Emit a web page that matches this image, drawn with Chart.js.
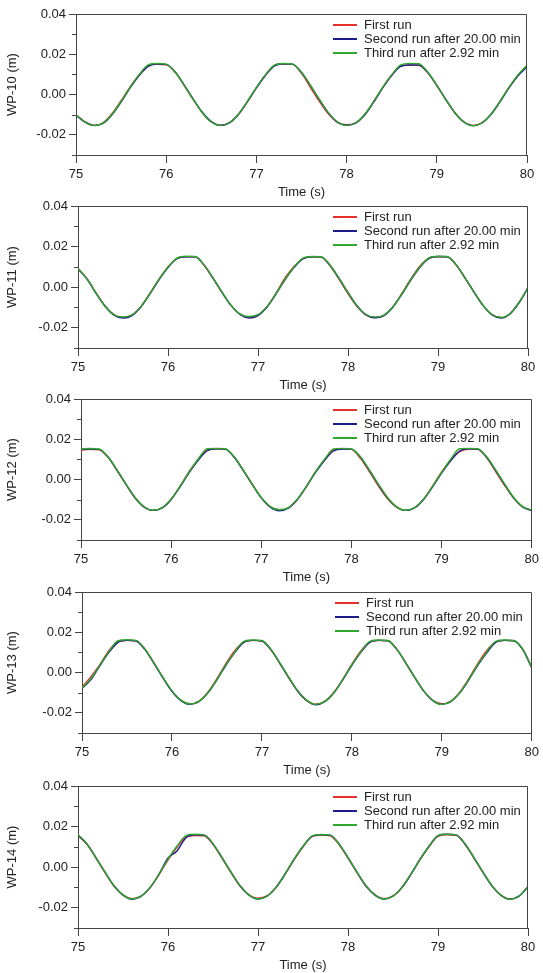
<!DOCTYPE html>
<html>
<head>
<meta charset="utf-8">
<title>WP-10 to WP-14 repeatability</title>
<script src="https://cdn.jsdelivr.net/npm/chart.js@4.4.1/dist/chart.umd.min.js"></script>
<style>
  body { margin: 0; background: #fff; }
  #page { position: relative; width: 543px; height: 973px; overflow: hidden;
          font-family: "Liberation Sans", Arial, Helvetica, sans-serif; }
  .panel { position: absolute; left: 0; }
  .legend { position: absolute; font-size: 13px; line-height: 14px; color: #222; }
  .legend div { position: relative; height: 14px; padding-left: 31px; white-space: nowrap; }
  .legend .swatch { position: absolute; left: 0; top: 6px; width: 24px; height: 2px; }
</style>
</head>
<body>
<div id="page"></div>
<script>
// ── Data ──────────────────────────────────────────────────────────────────────
const times = [
  75.0, 75.1, 75.2, 75.3, 75.4, 75.5, 75.6, 75.7, 75.8, 75.9,
  76.0, 76.1, 76.2, 76.3, 76.4, 76.5, 76.6, 76.7, 76.8, 76.9,
  77.0, 77.1, 77.2, 77.3, 77.4, 77.5, 77.6, 77.7, 77.8, 77.9,
  78.0, 78.1, 78.2, 78.3, 78.4, 78.5, 78.6, 78.7, 78.8, 78.9,
  79.0, 79.1, 79.2, 79.3, 79.4, 79.5, 79.6, 79.7, 79.8, 79.9, 80.0
];

const runLabels = ["First run", "Second run after 20.00 min", "Third run after 2.92 min"];
const gaugeLabels = ["WP-10 (m)", "WP-11 (m)", "WP-12 (m)", "WP-13 (m)", "WP-14 (m)"];
const xTickValues = [75, 76, 77, 78, 79, 80];
const yMajorTicks = [-0.02, 0.00, 0.02, 0.04];
const yMinorTicks = [-0.03, -0.01, 0.01, 0.03];

// WP-10
const wp10Run1 = [-0.0100,-0.0135,-0.0153,-0.0140,-0.0094,-0.0030,0.0038,0.0097,0.0143,0.0150,
  0.0148,0.0110,0.0045,-0.0025,-0.0090,-0.0135,-0.0152,-0.0140,-0.0098,-0.0035,
  0.0035,0.0097,0.0145,0.0152,0.0150,0.0105,0.0035,-0.0035,-0.0097,-0.0138,
  -0.0150,-0.0140,-0.0100,-0.0035,0.0035,0.0097,0.0142,0.0146,0.0145,0.0108,
  0.0045,-0.0025,-0.0090,-0.0135,-0.0153,-0.0140,-0.0098,-0.0035,0.0035,0.0095,0.0142];
const wp10Run2 = [-0.0102,-0.0137,-0.0153,-0.0143,-0.0100,-0.0037,0.0033,0.0095,0.0140,0.0151,
  0.0150,0.0112,0.0047,-0.0023,-0.0088,-0.0134,-0.0153,-0.0141,-0.0099,-0.0036,
  0.0033,0.0095,0.0142,0.0153,0.0151,0.0110,0.0044,-0.0026,-0.0092,-0.0138,
  -0.0152,-0.0142,-0.0102,-0.0038,0.0033,0.0095,0.0140,0.0147,0.0147,0.0110,
  0.0046,-0.0024,-0.0090,-0.0136,-0.0154,-0.0141,-0.0099,-0.0036,0.0033,0.0093,0.0138];
const wp10Run3 = [-0.0101,-0.0137,-0.0154,-0.0142,-0.0098,-0.0034,0.0036,0.0099,0.0147,0.0154,
  0.0151,0.0112,0.0046,-0.0024,-0.0090,-0.0136,-0.0153,-0.0140,-0.0098,-0.0034,
  0.0036,0.0098,0.0146,0.0154,0.0151,0.0111,0.0045,-0.0025,-0.0091,-0.0136,
  -0.0153,-0.0140,-0.0098,-0.0034,0.0036,0.0098,0.0147,0.0155,0.0153,0.0112,
  0.0046,-0.0025,-0.0090,-0.0136,-0.0155,-0.0141,-0.0098,-0.0034,0.0036,0.0098,0.0146];

// WP-11
const wp11Run1 = [0.0092,0.0042,-0.0028,-0.0092,-0.0136,-0.0150,-0.0138,-0.0095,-0.0030,0.0040,
  0.0100,0.0142,0.0150,0.0150,0.0108,0.0043,-0.0027,-0.0090,-0.0133,-0.0148,
  -0.0137,-0.0096,-0.0030,0.0045,0.0102,0.0140,0.0150,0.0148,0.0105,0.0040,
  -0.0032,-0.0095,-0.0137,-0.0150,-0.0138,-0.0096,-0.0030,0.0042,0.0105,0.0143,
  0.0150,0.0149,0.0110,0.0045,-0.0025,-0.0090,-0.0135,-0.0150,-0.0130,-0.0075,-0.0003];
const wp11Run2 = [0.0090,0.0040,-0.0030,-0.0094,-0.0138,-0.0152,-0.0140,-0.0097,-0.0033,0.0036,
  0.0097,0.0140,0.0150,0.0150,0.0110,0.0045,-0.0025,-0.0090,-0.0135,-0.0152,
  -0.0140,-0.0098,-0.0034,0.0036,0.0096,0.0140,0.0150,0.0149,0.0108,0.0043,
  -0.0027,-0.0092,-0.0137,-0.0151,-0.0140,-0.0098,-0.0034,0.0036,0.0098,0.0142,
  0.0151,0.0150,0.0111,0.0046,-0.0024,-0.0090,-0.0137,-0.0152,-0.0132,-0.0077,-0.0004];
const wp11Run3 = [0.0091,0.0041,-0.0029,-0.0093,-0.0136,-0.0147,-0.0137,-0.0096,-0.0032,0.0038,
  0.0099,0.0143,0.0152,0.0151,0.0110,0.0045,-0.0025,-0.0089,-0.0132,-0.0145,
  -0.0136,-0.0096,-0.0032,0.0038,0.0099,0.0143,0.0151,0.0150,0.0109,0.0044,
  -0.0026,-0.0091,-0.0135,-0.0148,-0.0138,-0.0097,-0.0033,0.0038,0.0100,0.0144,
  0.0152,0.0151,0.0111,0.0046,-0.0024,-0.0089,-0.0135,-0.0150,-0.0131,-0.0076,-0.0002];

// WP-12
const wp12Run1 = [0.0147,0.0150,0.0148,0.0110,0.0045,-0.0025,-0.0092,-0.0137,-0.0153,-0.0140,
  -0.0098,-0.0033,0.0040,0.0100,0.0146,0.0153,0.0151,0.0110,0.0045,-0.0025,
  -0.0090,-0.0135,-0.0150,-0.0140,-0.0098,-0.0035,0.0038,0.0097,0.0145,0.0153,
  0.0150,0.0105,0.0038,-0.0032,-0.0095,-0.0137,-0.0153,-0.0140,-0.0097,-0.0032,
  0.0038,0.0095,0.0138,0.0152,0.0150,0.0108,0.0040,-0.0030,-0.0093,-0.0137,-0.0153];
const wp12Run2 = [0.0150,0.0152,0.0150,0.0112,0.0046,-0.0024,-0.0090,-0.0136,-0.0153,-0.0141,
  -0.0099,-0.0035,0.0035,0.0096,0.0143,0.0153,0.0151,0.0111,0.0046,-0.0024,
  -0.0091,-0.0137,-0.0155,-0.0142,-0.0099,-0.0035,0.0034,0.0095,0.0142,0.0152,
  0.0151,0.0111,0.0045,-0.0026,-0.0091,-0.0136,-0.0153,-0.0141,-0.0099,-0.0036,
  0.0032,0.0093,0.0142,0.0153,0.0151,0.0111,0.0045,-0.0025,-0.0091,-0.0136,-0.0154];
const wp12Run3 = [0.0152,0.0154,0.0152,0.0113,0.0047,-0.0023,-0.0089,-0.0135,-0.0152,-0.0139,
  -0.0097,-0.0033,0.0038,0.0102,0.0153,0.0155,0.0153,0.0113,0.0047,-0.0023,
  -0.0089,-0.0134,-0.0150,-0.0139,-0.0097,-0.0034,0.0037,0.0100,0.0152,0.0155,
  0.0152,0.0112,0.0046,-0.0024,-0.0089,-0.0134,-0.0152,-0.0139,-0.0097,-0.0034,
  0.0036,0.0101,0.0153,0.0155,0.0153,0.0113,0.0047,-0.0023,-0.0089,-0.0134,-0.0152];

// WP-13
const wp13Run1 = [-0.0072,-0.0020,0.0040,0.0110,0.0152,0.0160,0.0158,0.0115,0.0047,-0.0025,
  -0.0092,-0.0138,-0.0155,-0.0141,-0.0097,-0.0030,0.0045,0.0110,0.0152,0.0160,
  0.0157,0.0113,0.0045,-0.0027,-0.0094,-0.0139,-0.0157,-0.0142,-0.0098,-0.0032,
  0.0042,0.0108,0.0152,0.0160,0.0158,0.0115,0.0047,-0.0025,-0.0092,-0.0138,
  -0.0155,-0.0141,-0.0097,-0.0030,0.0045,0.0110,0.0152,0.0160,0.0158,0.0115,0.0025];
const wp13Run2 = [-0.0078,-0.0035,0.0035,0.0100,0.0150,0.0160,0.0157,0.0114,0.0046,-0.0026,
  -0.0093,-0.0139,-0.0158,-0.0144,-0.0101,-0.0036,0.0036,0.0100,0.0150,0.0160,
  0.0157,0.0114,0.0046,-0.0026,-0.0093,-0.0140,-0.0160,-0.0145,-0.0101,-0.0036,
  0.0036,0.0100,0.0150,0.0160,0.0158,0.0115,0.0047,-0.0025,-0.0092,-0.0139,
  -0.0158,-0.0144,-0.0101,-0.0036,0.0036,0.0098,0.0150,0.0160,0.0158,0.0114,0.0024];
const wp13Run3 = [-0.0076,-0.0030,0.0038,0.0105,0.0158,0.0163,0.0160,0.0117,0.0048,-0.0024,
  -0.0091,-0.0137,-0.0156,-0.0143,-0.0100,-0.0034,0.0039,0.0103,0.0155,0.0162,
  0.0159,0.0116,0.0048,-0.0024,-0.0091,-0.0138,-0.0158,-0.0143,-0.0100,-0.0034,
  0.0039,0.0103,0.0155,0.0162,0.0159,0.0116,0.0048,-0.0024,-0.0091,-0.0138,
  -0.0158,-0.0143,-0.0100,-0.0034,0.0039,0.0103,0.0155,0.0162,0.0159,0.0116,0.0026];

// WP-14
const wp14Run1 = [0.0157,0.0112,0.0045,-0.0027,-0.0093,-0.0137,-0.0155,-0.0143,-0.0102,-0.0037,
  0.0035,0.0098,0.0148,0.0156,0.0155,0.0112,0.0044,-0.0027,-0.0093,-0.0136,
  -0.0153,-0.0142,-0.0100,-0.0036,0.0036,0.0100,0.0150,0.0158,0.0155,0.0111,
  0.0044,-0.0027,-0.0093,-0.0137,-0.0155,-0.0142,-0.0100,-0.0035,0.0037,0.0100,
  0.0152,0.0159,0.0157,0.0113,0.0045,-0.0027,-0.0093,-0.0138,-0.0157,-0.0143,-0.0095];
const wp14Run2 = [0.0158,0.0114,0.0046,-0.0025,-0.0092,-0.0138,-0.0158,-0.0144,-0.0101,-0.0035,
  0.0045,0.0080,0.0145,0.0160,0.0158,0.0115,0.0047,-0.0025,-0.0092,-0.0138,
  -0.0157,-0.0143,-0.0100,-0.0035,0.0038,0.0102,0.0152,0.0160,0.0158,0.0115,
  0.0047,-0.0025,-0.0093,-0.0138,-0.0157,-0.0143,-0.0100,-0.0035,0.0038,0.0103,
  0.0155,0.0162,0.0159,0.0114,0.0046,-0.0025,-0.0092,-0.0139,-0.0158,-0.0143,-0.0098];
const wp14Run3 = [0.0160,0.0115,0.0047,-0.0025,-0.0091,-0.0137,-0.0157,-0.0143,-0.0100,-0.0034,
  0.0040,0.0104,0.0155,0.0162,0.0159,0.0116,0.0047,-0.0025,-0.0091,-0.0137,
  -0.0157,-0.0143,-0.0100,-0.0034,0.0039,0.0103,0.0153,0.0161,0.0158,0.0115,
  0.0047,-0.0025,-0.0091,-0.0137,-0.0157,-0.0143,-0.0100,-0.0034,0.0039,0.0103,
  0.0155,0.0162,0.0159,0.0116,0.0047,-0.0025,-0.0091,-0.0138,-0.0158,-0.0143,-0.0097];

// ── Styles / layout ───────────────────────────────────────────────────────────
const runColors = ["#e5312e", "#1c1c8a", "#2ea82e"];
const axisColor = "#444";
const textColor = "#222";
const FONT = "'Liberation Sans', Arial, Helvetica, sans-serif";

// plot-area box of each panel, in page pixels
const panels = [
  { runs: [wp10Run1, wp10Run2, wp10Run3], top: 14,  left: 76, right: 527, h: 141, legendX: 333 },
  { runs: [wp11Run1, wp11Run2, wp11Run3], top: 206, left: 78, right: 528, h: 142, legendX: 333 },
  { runs: [wp12Run1, wp12Run2, wp12Run3], top: 399, left: 81, right: 532, h: 141, legendX: 333 },
  { runs: [wp13Run1, wp13Run2, wp13Run3], top: 592, left: 82, right: 533, h: 141, legendX: 335 },
  { runs: [wp14Run1, wp14Run2, wp14Run3], top: 786, left: 78, right: 528, h: 142, legendX: 333 },
];

const PAD_TOP = 14;
const X_AXIS_H = 46;

// box round the plot + short minor ticks on y
const framePlugin = {
  id: "frame",
  afterDraw(chart) {
    const { ctx, chartArea: a } = chart;
    const y = chart.scales.y;
    ctx.save();
    ctx.strokeStyle = axisColor;
    ctx.lineWidth = 1;
    ctx.beginPath();
    const t = Math.round(a.top) + 0.5, r = Math.round(a.right) - 0.5;
    ctx.moveTo(Math.round(a.left), t);
    ctx.lineTo(r, t);
    ctx.lineTo(r, Math.round(a.bottom));
    yMinorTicks.forEach(v => {
      const py = Math.round(y.getPixelForValue(v)) + 0.5;
      ctx.moveTo(a.left - 4, py);
      ctx.lineTo(a.left, py);
    });
    ctx.stroke();
    ctx.restore();
  }
};

function fmtY(v) {
  return Math.abs(v) < 1e-9 ? "0.00" : Number(v).toFixed(2);
}

function buildPanel(p, idx) {
  const page = document.getElementById("page");
  const wrap = document.createElement("div");
  wrap.className = "panel";
  wrap.style.top = (p.top - PAD_TOP) + "px";
  const cv = document.createElement("canvas");
  cv.width = 543;
  cv.height = p.h + PAD_TOP + X_AXIS_H;
  wrap.appendChild(cv);
  page.appendChild(wrap);

  const font = { family: FONT, size: 13 };

  new Chart(cv, {
    type: "line",
    data: {
      datasets: p.runs.map((vals, k) => ({
        label: runLabels[k],
        data: times.map((t, i) => ({ x: t, y: vals[i] })),
        borderColor: runColors[k],
        borderWidth: 1.4,
        pointRadius: 0,
        fill: false,
        cubicInterpolationMode: "monotone",
        order: 2 - k,
      })),
    },
    options: {
      responsive: false,
      animation: false,
      devicePixelRatio: 1,
      layout: { padding: { left: 0, top: PAD_TOP, right: 543 - p.right, bottom: 0 } },
      plugins: { legend: { display: false }, tooltip: { enabled: false } },
      scales: {
        x: {
          type: "linear",
          min: xTickValues[0],
          max: xTickValues[xTickValues.length - 1],
          afterBuildTicks: s => { s.ticks = xTickValues.map(v => ({ value: v })); },
          ticks: { color: textColor, font, padding: 4, maxRotation: 0, autoSkip: false },
          grid: { drawOnChartArea: false, tickLength: 8, tickColor: axisColor },
          border: { color: axisColor },
          title: { display: true, text: "Time (s)", color: textColor, font, padding: { top: 0, bottom: 1 } },
          afterFit: s => { s.height = X_AXIS_H; },
        },
        y: {
          min: yMinorTicks[0],
          max: yMajorTicks[yMajorTicks.length - 1],
          afterBuildTicks: s => { s.ticks = yMajorTicks.map(v => ({ value: v })); },
          ticks: { color: textColor, font, padding: 3, callback: fmtY },
          grid: { drawOnChartArea: false, tickLength: 7, tickColor: axisColor },
          border: { color: axisColor },
          title: { display: true, text: gaugeLabels[idx], color: textColor, font, padding: { top: 5, bottom: 0 } },
          afterFit: s => { s.width = p.left; },
        },
      },
    },
    plugins: [framePlugin],
  });

  // legend in the upper right of the plot
  const lg = document.createElement("div");
  lg.className = "legend";
  lg.style.left = p.legendX + "px";
  lg.style.top = (p.top + 4) + "px";
  lg.innerHTML = runLabels.map((name, k) =>
    `<div><span class="swatch" style="background-color:${runColors[k]}"></span>${name}</div>`).join("");
  page.appendChild(lg);
}

panels.forEach(buildPanel);
</script>
</body>
</html>
